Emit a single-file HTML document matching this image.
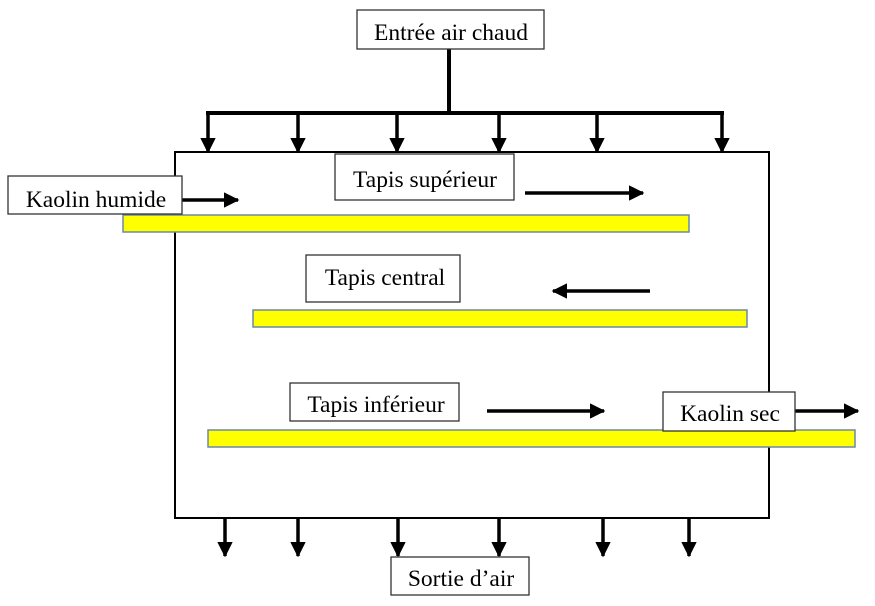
<!DOCTYPE html><html><head><meta charset="utf-8"><style>body{margin:0;background:#fff}svg{display:block}text{font-family:"Liberation Serif",serif;font-size:23.5px;fill:#000}</style></head><body>
<svg width="875" height="606" viewBox="0 0 875 606" xmlns="http://www.w3.org/2000/svg">
<defs><marker id="a" markerWidth="4.4" markerHeight="4.4" refX="4" refY="2.2" orient="auto" markerUnits="strokeWidth"><path d="M0,0L4.4,2.2L0,4.4z" fill="#000"/></marker></defs>
<rect x="175" y="152" width="594" height="366" fill="#fff" stroke="#000" stroke-width="2"/>
<g stroke="#000" stroke-width="4" fill="none">
<path d="M449,49V113M206,113H724"/>
</g>
<g stroke="#000" stroke-width="3.5" marker-end="url(#a)">
<line x1="208" y1="113" x2="208" y2="152"/><line x1="298" y1="113" x2="298" y2="152"/><line x1="397" y1="113" x2="397" y2="152"/><line x1="499" y1="113" x2="499" y2="152"/><line x1="597" y1="113" x2="597" y2="152"/><line x1="722" y1="113" x2="722" y2="152"/>
<line x1="225" y1="518" x2="225" y2="556"/><line x1="298" y1="518" x2="298" y2="556"/><line x1="398" y1="518" x2="398" y2="556"/><line x1="499" y1="518" x2="499" y2="556"/><line x1="603" y1="518" x2="603" y2="556"/><line x1="689" y1="518" x2="689" y2="556"/>
<line x1="175" y1="200" x2="238" y2="200"/><line x1="525" y1="193" x2="643" y2="193"/><line x1="650" y1="291" x2="553" y2="291"/><line x1="487" y1="411" x2="604" y2="411"/><line x1="795" y1="411" x2="858" y2="411"/>
</g>
<g fill="#ffff00" stroke="#6a89a8" stroke-width="1.5">
<rect x="123" y="215" width="566" height="17"/><rect x="253" y="310" width="494" height="17"/><rect x="208" y="430" width="647" height="17"/>
</g>
<g fill="#fff" stroke="#333" stroke-width="1.3">
<rect x="357" y="10" width="187" height="39"/><rect x="8" y="176" width="174" height="38"/><rect x="335" y="154" width="179" height="46"/><rect x="306" y="255" width="154" height="47"/><rect x="290" y="383" width="169" height="38"/><rect x="663" y="392" width="132" height="39"/><rect x="391" y="557" width="138" height="38"/>
</g>
<text x="451" y="40" text-anchor="middle">Entrée air chaud</text>
<text x="96" y="207" text-anchor="middle">Kaolin humide</text>
<text x="425" y="187" text-anchor="middle">Tapis supérieur</text>
<text x="385" y="285" text-anchor="middle">Tapis central</text>
<text x="376" y="412" text-anchor="middle">Tapis inférieur</text>
<text x="730" y="421" text-anchor="middle">Kaolin sec</text>
<text x="461" y="586" text-anchor="middle">Sortie d’air</text>
</svg></body></html>
